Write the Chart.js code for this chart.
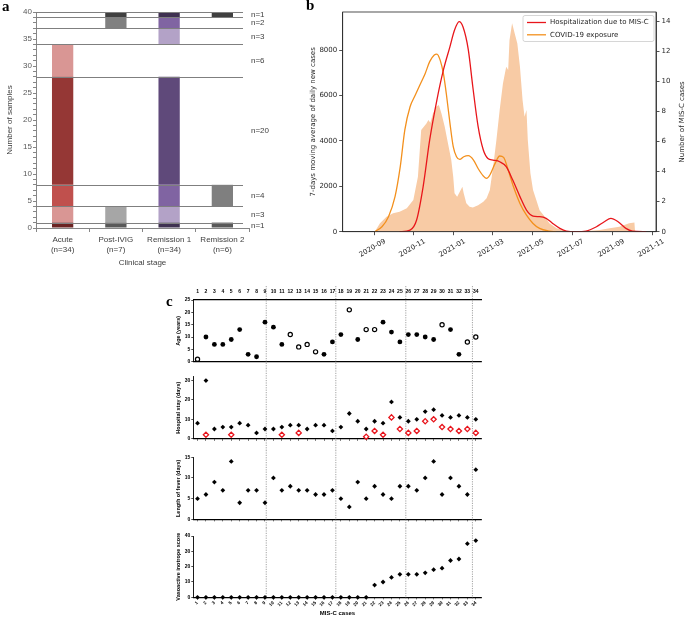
<!DOCTYPE html>
<html>
<head>
<meta charset="utf-8">
<script src="https://cdn.jsdelivr.net/npm/chart.js@4.4.1/dist/chart.umd.min.js"></script>
<style>
html, body { margin: 0; padding: 0; background: #fff; }
#fig { position: relative; width: 685px; height: 618px; overflow: hidden; }
#fig canvas { position: absolute; }
.tag { position: absolute; font: bold 15px "Liberation Serif", serif; color: #000; line-height: 1; }
</style>
</head>
<body>
<div id="fig">
  <canvas id="chartA" width="300" height="275" style="left:0;top:0"></canvas>
  <canvas id="chartB" width="385" height="270" style="left:300px;top:0"></canvas>
  <canvas id="chartAge" width="325" height="85" style="left:165px;top:283px"></canvas>
  <canvas id="chartHosp" width="325" height="82" style="left:165px;top:368px"></canvas>
  <canvas id="chartFever" width="325" height="78" style="left:165px;top:450px"></canvas>
  <canvas id="chartVis" width="325" height="90" style="left:165px;top:528px"></canvas>
  <div class="tag" style="left:2px;top:-1px">a</div>
  <div class="tag" style="left:306px;top:-2px">b</div>
  <div class="tag" style="left:166px;top:294px">c</div>
</div>
<script>
// ---- panel a : samples per clinical stage ----
const stages = [['Acute', '(n=34)'], ['Post-IVIG', '(n=7)'], ['Remission 1', '(n=34)'], ['Remission 2', '(n=6)']];
const groupSizes = [1, 3, 4, 20, 6, 3, 2, 1];          // patient groups, bottom to top
const acuteCounts = [1, 3, 4, 20, 6, 0, 0, 0];
const postIvigCounts = [1, 3, 0, 0, 0, 0, 2, 1];
const remission1Counts = [1, 3, 4, 20, 0, 3, 2, 1];
const remission2Counts = [1, 0, 4, 0, 0, 0, 0, 1];

// ---- panel b : epidemic curve (x = days since 2020-07-01) ----
const caseDays = [63, 71, 81, 91, 101, 112, 122, 129, 134, 138, 142, 145, 148, 152, 157, 161, 165, 170, 175, 180, 183, 185, 189, 193, 197, 199, 203, 208, 213, 221, 229, 234, 239, 244, 249, 254, 259, 264, 267, 269, 273, 277, 281, 285, 289, 292, 295, 297, 301, 305, 310, 315, 323, 330, 341, 356, 381, 407, 422, 437, 452, 460, 461];
const caseValues = [0, 370, 660, 810, 880, 1030, 1400, 2420, 4480, 4620, 4770, 4920, 4800, 5210, 5500, 5580, 5210, 4620, 3890, 3160, 2420, 1690, 1540, 1760, 1980, 1690, 1250, 1100, 1070, 1170, 1320, 1470, 1840, 2860, 4040, 5360, 6530, 7270, 7120, 8440, 9180, 8730, 8290, 7270, 5800, 5060, 5360, 4040, 2570, 1840, 1400, 950, 660, 370, 150, 30, 15, 70, 150, 220, 370, 410, 0];
const hospDays = [101, 117, 127, 137, 147, 158, 168, 178, 185, 192, 198, 206, 213, 221, 229, 236, 244, 254, 264, 274, 285, 295, 305, 315, 325, 335, 346, 356, 371, 386, 402, 414, 424, 435, 447, 457, 478];
const hospValues = [0, 0.11, 0.78, 3.0, 6.1, 8.75, 10.75, 12.3, 13.4, 13.96, 13.6, 12.1, 9.6, 7.0, 5.43, 4.87, 4.76, 4.65, 4.32, 3.43, 2.33, 1.44, 1.04, 1.0, 0.89, 0.55, 0.22, 0.04, 0, 0.04, 0.33, 0.66, 0.88, 0.66, 0.22, 0.04, 0];
const exposureDays = [63, 74, 84, 94, 102, 109, 117, 125, 132, 140, 147, 154, 158, 163, 168, 173, 178, 183, 188, 193, 199, 206, 214, 221, 229, 234, 239, 247, 254, 260, 267, 275, 285, 295, 305, 315, 330, 340];
const exposureValues = [0, 0.33, 1.0, 2.33, 4.32, 6.76, 8.3, 9.08, 9.75, 10.5, 11.3, 11.74, 11.8, 11.4, 10.5, 8.97, 7.2, 5.65, 4.98, 4.8, 4.98, 5.05, 4.76, 4.2, 3.7, 3.54, 3.77, 4.54, 5.03, 4.94, 4.1, 3.0, 1.88, 1.1, 0.55, 0.22, 0.04, 0];
const monthTicks = ['2020-09', '2020-11', '2021-01', '2021-03', '2021-05', '2021-07', '2021-09', '2021-11'];
const newCaseTicks = [0, 2000, 4000, 6000, 8000];
const misCaseTicks = [0, 2, 4, 6, 8, 10, 12, 14];

// ---- panel c : per-case data ----
const caseIds = [1, 2, 3, 4, 5, 6, 7, 8, 9, 10, 11, 12, 13, 14, 15, 16, 17, 18, 19, 20, 21, 22, 23, 24, 25, 26, 27, 28, 29, 30, 31, 32, 33, 34];
const ages = [1, 10, 7, 7, 9, 13, 3, 2, 16, 14, 7, 11, 6, 7, 4, 3, 8, 11, 21, 9, 13, 13, 16, 12, 8, 11, 11, 10, 9, 15, 13, 3, 8, 10];
const openAgeCases = [1, 12, 13, 14, 15, 19, 21, 22, 30, 33, 34];
const hospitalStay = [8, 30, 5, 6, 6, 8, 7, 3, 5, 5, 6, 7, 7, 5, 7, 7, 4, 6, 13, 9, 5, 9, 8, 19, 11, 9, 10, 14, 15, 12, 11, 12, 11, 10];
const icuStay = [null, 2, null, null, 2, null, null, null, null, null, 2, null, 3, null, null, null, null, null, null, null, 1, 4, 2, 11, 5, 3, 4, 9, 10, 6, 5, 4, 5, 3];
const feverDays = [5, 6, 9, 7, 14, 4, 7, 7, 4, 10, 7, 8, 7, 7, 6, 6, 7, 5, 3, 9, 5, 8, 6, 5, 8, 8, 7, 10, 14, 6, 10, 8, 6, 12];
const inotropeScore = [0, 0, 0, 0, 0, 0, 0, 0, 0, 0, 0, 0, 0, 0, 0, 0, 0, 0, 0, 0, 0, 8, 10, 13, 15, 15, 15, 16, 18, 19, 24, 25, 35, 37];
const groupDividers = [9.15, 17.4, 25.7, 33.6];

// ============ panel a ============
const stageCounts = [acuteCounts, postIvigCounts, remission1Counts, remission2Counts];
const stageColors = [
    ['#6b2322', '#d99694', '#c0504d', '#953735', '#d99694', '#d99694', '#c0504d', '#6b2322'],
    ['#595959', '#a6a6a6', '#7f7f7f', '#595959', '#a6a6a6', '#a6a6a6', '#808080', '#404040'],
    ['#3f3151', '#b3a2c7', '#8064a2', '#5f497a', '#b3a2c7', '#b3a2c7', '#8064a2', '#3f3151'],
    ['#595959', '#a6a6a6', '#7f7f7f', '#595959', '#a6a6a6', '#a6a6a6', '#808080', '#404040']
];
const fontA = { family: 'Liberation Sans', size: 8 };

// lower edge of every group on the sample axis
const groupStarts = groupSizes.map((n, g) => groupSizes.slice(0, g).reduce((s, v) => s + v, 0));

const groupLinesPlugin = {
    id: 'groupLines',
    afterDatasetsDraw(chart) {
        const { ctx, chartArea } = chart;
        const y = chart.scales.y;
        ctx.save();
        ctx.strokeStyle = '#7f7f7f';
        ctx.lineWidth = 1;
        ctx.fillStyle = '#404040';
        ctx.font = '8px "Liberation Sans"';
        ctx.textBaseline = 'middle';
        groupSizes.forEach((n, g) => {
            const top = groupStarts[g] + n;
            const py = Math.round(y.getPixelForValue(top)) + 0.5;
            ctx.beginPath();
            ctx.moveTo(chartArea.left, py);
            ctx.lineTo(chartArea.right - 6, py);
            ctx.stroke();
            ctx.fillText('n=' + n, chartArea.right + 2, y.getPixelForValue(groupStarts[g] + n / 2));
        });
        ctx.restore();
    }
};

new Chart(document.getElementById('chartA'), {
    type: 'bar',
    data: {
        labels: stages,
        datasets: groupSizes.map((n, g) => ({
            label: 'n=' + n,
            data: stageCounts.map(c => (c[g] ? [groupStarts[g], groupStarts[g] + c[g]] : null)),
            backgroundColor: stageColors.map(c => c[g]),
            borderWidth: 0,
            grouped: false,
            barPercentage: 0.4,
            categoryPercentage: 1
        }))
    },
    options: {
        responsive: false,
        animation: false,
        layout: { padding: { top: 12, right: 51, left: 0, bottom: 0 } },
        plugins: { legend: { display: false }, tooltip: { enabled: false } },
        scales: {
            x: {
                grid: { drawOnChartArea: false, tickLength: 4, color: '#868686', offset: true },
                border: { color: '#868686' },
                ticks: { color: '#404040', font: fontA, padding: 3, maxRotation: 0 },
                title: { display: true, text: 'Clinical stage', color: '#404040', font: fontA, padding: { top: 0, bottom: 7 } },
                afterFit: s => { s.height = 47; }
            },
            y: {
                min: 0,
                max: 40,
                ticks: { stepSize: 1, autoSkip: false, color: '#595959', font: fontA, padding: 1,
                    callback: v => (v % 5 === 0 ? v : '') },
                grid: { drawOnChartArea: false, tickLength: 3, color: '#868686' },
                border: { color: '#868686' },
                title: { display: true, text: 'Number of samples', color: '#404040', font: fontA, padding: { top: 5, bottom: 0 } },
                afterFit: s => { s.width = 36; }
            }
        }
    },
    plugins: [groupLinesPlugin]
});

// ============ panel b ============
const baseDay = Date.UTC(2020, 6, 1);
function dayOf(month) {
    const [yy, mm] = month.split('-').map(Number);
    return (Date.UTC(yy, mm - 1, 1) - baseDay) / 86400000;
}
function pts(xs, ys) { return xs.map((x, i) => ({ x: x, y: ys[i] })); }
const fontB = { family: 'DejaVu Sans', size: 7 };
const inkB = '#262626';

const panelBDecor = {
    id: 'panelBDecor',
    afterDraw(chart) {
        const { ctx, chartArea: a } = chart;
        ctx.save();
        ctx.strokeStyle = inkB;
        ctx.lineWidth = 0.8;
        ctx.strokeRect(a.left, a.top, a.right - a.left, a.bottom - a.top);
        // legend box
        const items = chart.data.datasets.filter(d => d.yAxisID === 'y1');
        const bw = 131, bh = 26, bx = a.right - 2 - bw, by = a.top + 3.5;
        ctx.fillStyle = 'rgba(255,255,255,0.85)';
        ctx.strokeStyle = '#cccccc';
        ctx.beginPath();
        ctx.roundRect(bx, by, bw, bh, 2);
        ctx.fill();
        ctx.stroke();
        ctx.font = '7px "DejaVu Sans"';
        ctx.textBaseline = 'middle';
        items.forEach((d, i) => {
            const cy = by + 7 + i * 12.3;
            ctx.strokeStyle = d.borderColor;
            ctx.lineWidth = d.borderWidth;
            ctx.beginPath();
            ctx.moveTo(bx + 4, cy);
            ctx.lineTo(bx + 23, cy);
            ctx.stroke();
            ctx.fillStyle = inkB;
            ctx.fillText(d.label, bx + 27, cy);
        });
        // right axis title, read bottom to top
        ctx.translate(chart.width - 3, (a.top + a.bottom) / 2);
        ctx.rotate(-Math.PI / 2);
        ctx.textAlign = 'center';
        ctx.fillStyle = inkB;
        ctx.font = '7px "DejaVu Sans"';
        ctx.fillText('Number of MIS-C cases', 0, 0);
        ctx.restore();
    }
};

new Chart(document.getElementById('chartB'), {
    type: 'line',
    data: {
        datasets: [
            { label: 'Hospitalization due to MIS-C', data: pts(hospDays, hospValues), yAxisID: 'y1',
              borderColor: '#e8161b', borderWidth: 1.3, pointRadius: 0, cubicInterpolationMode: 'monotone', fill: false },
            { label: 'COVID-19 exposure', data: pts(exposureDays, exposureValues), yAxisID: 'y1',
              borderColor: '#f3901d', borderWidth: 1.3, pointRadius: 0, cubicInterpolationMode: 'monotone', fill: false },
            { label: 'Daily new cases', data: pts(caseDays, caseValues), yAxisID: 'y',
              borderWidth: 0, backgroundColor: '#f8cba5', fill: 'origin', pointRadius: 0, tension: 0 }
        ]
    },
    options: {
        responsive: false,
        animation: false,
        layout: { padding: { top: 12, left: 0, right: 0, bottom: 0 } },
        plugins: { legend: { display: false }, tooltip: { enabled: false } },
        scales: {
            x: {
                type: 'linear',
                min: 14,
                max: 493,
                afterBuildTicks: s => { s.ticks = monthTicks.map(m => ({ value: dayOf(m) })); },
                ticks: { callback: (v, i) => monthTicks[i], minRotation: 30, maxRotation: 30,
                    labelOffset: 11, padding: 2, color: inkB, font: fontB },
                grid: { drawOnChartArea: false, tickLength: 3.5, color: inkB, lineWidth: 0.8 },
                border: { color: inkB, width: 0.8 },
                afterFit: s => { s.height = 38.3; }
            },
            y: {
                position: 'left',
                min: 0,
                max: 9680,
                afterBuildTicks: s => { s.ticks = newCaseTicks.map(v => ({ value: v })); },
                ticks: { callback: v => String(v), color: inkB, font: fontB, padding: 2 },
                grid: { drawOnChartArea: false, tickLength: 3.5, color: inkB, lineWidth: 0.8 },
                border: { color: inkB, width: 0.8 },
                title: { display: true, text: '7-days moving average of daily new cases', color: inkB, font: fontB, padding: { top: 9, bottom: 0 } },
                afterFit: s => { s.width = 42.7; }
            },
            y1: {
                position: 'right',
                min: 0,
                max: 14.6,
                afterBuildTicks: s => { s.ticks = misCaseTicks.map(v => ({ value: v })); },
                ticks: { callback: v => String(v), color: inkB, font: fontB, padding: 2 },
                grid: { drawOnChartArea: false, tickLength: 3.5, color: inkB, lineWidth: 0.8 },
                border: { color: inkB, width: 0.8 },
                afterFit: s => { s.width = 29; }
            }
        }
    },
    plugins: [panelBDecor]
});

// ============ panel c ============
const fontC = { family: 'Liberation Sans', size: 5, weight: 'bold' };
const fontCTitle = { family: 'Liberation Sans', size: 5.5, weight: 'bold' };

const dividerPlugin = {
    id: 'dividers',
    beforeDatasetsDraw(chart, args, opts) {
        const { ctx } = chart;
        const x = chart.scales.x;
        const y0 = opts.top || 0;
        const y1 = opts.bottom === 'axis' ? chart.chartArea.bottom + 3 : chart.height;
        ctx.save();
        ctx.strokeStyle = '#8c8c8c';
        ctx.lineWidth = 0.8;
        ctx.setLineDash([1.2, 1.2]);
        groupDividers.forEach(v => {
            const px = x.getPixelForValue(v);
            ctx.beginPath();
            ctx.moveTo(px, y0);
            ctx.lineTo(px, y1);
            ctx.stroke();
        });
        ctx.restore();
    }
};

function casePoints(values) {
    return caseIds.map((c, i) => ({ x: c, y: values[i] })).filter(p => p.y !== null);
}

function casePanel(id, cfg) {
    const xAxis = {
        type: 'linear',
        min: 0.5,
        max: 34.7,
        afterBuildTicks: s => { s.ticks = caseIds.map(v => ({ value: v })); },
        ticks: { display: !!cfg.xLabels, autoSkip: false, minRotation: 45, maxRotation: 45,
            color: '#000', font: { family: 'Liberation Sans', size: 4.5, weight: 'bold' }, padding: 1 },
        grid: { display: cfg.xTicks !== false, drawOnChartArea: false, tickLength: 2, color: '#000', lineWidth: 0.7 },
        border: { color: '#000', width: 1.3 },
        title: { display: !!cfg.xTitle, text: cfg.xTitle || '', color: '#000', font: { family: 'Liberation Sans', size: 6, weight: 'bold' }, padding: { top: 0, bottom: 1 } },
        afterFit: s => { s.height = cfg.xHeight; }
    };
    const scales = {
        x: xAxis,
        y: {
            min: 0,
            max: cfg.yMax,
            ticks: { stepSize: cfg.yStep, includeBounds: false, color: '#000', font: fontC, padding: 1 },
            grid: { drawOnChartArea: false, tickLength: 2, color: '#000', lineWidth: 0.7 },
            border: { color: '#000', width: 0.9 },
            title: { display: true, text: cfg.yTitle, color: '#000', font: fontCTitle, padding: { top: 0, bottom: 0 } },
            afterFit: s => { s.width = 18.3; }
        }
    };
    if (cfg.topNumbers) {
        scales.x2 = {
            type: 'linear',
            position: 'top',
            min: 0.5,
            max: 34.7,
            afterBuildTicks: s => { s.ticks = caseIds.map(v => ({ value: v })); },
            ticks: { autoSkip: false, maxRotation: 0, color: '#000', font: fontC, padding: 5 },
            grid: { drawOnChartArea: false, tickLength: 0, color: '#000' },
            border: { color: '#000', width: 1.3 },
            afterFit: s => { s.height = 17; }
        };
    }
    return new Chart(document.getElementById(id), {
        type: 'scatter',
        data: { datasets: cfg.datasets },
        options: {
            responsive: false,
            animation: false,
            layout: { padding: { top: cfg.padTop, left: 10, right: 8.3, bottom: 0 } },
            plugins: { legend: { display: false }, tooltip: { enabled: false },
                dividers: { top: cfg.lineTop, bottom: cfg.lineBottom } },
            scales: scales
        },
        plugins: [dividerPlugin]
    });
}

const blackDiamond = { pointStyle: 'rectRot', pointRadius: 2.4, backgroundColor: '#000', borderWidth: 0, clip: false };

casePanel('chartAge', {
    padTop: 0, lineTop: 3, xHeight: 6.3, xTicks: false, topNumbers: true,
    yMax: 25, yStep: 5, yTitle: 'Age (years)',
    datasets: [
        { data: casePoints(ages.map((a, i) => (openAgeCases.includes(caseIds[i]) ? null : a))),
          pointStyle: 'circle', pointRadius: 2.4, backgroundColor: '#000', borderWidth: 0, clip: false },
        { data: casePoints(ages.map((a, i) => (openAgeCases.includes(caseIds[i]) ? a : null))),
          pointStyle: 'circle', pointRadius: 2.1, backgroundColor: '#fff', borderColor: '#000', borderWidth: 1.2, clip: false }
    ]
});

casePanel('chartHosp', {
    padTop: 8.7, lineTop: 0, xHeight: 11.3,
    yMax: 32, yStep: 10, yTitle: 'Hospital stay (days)',
    datasets: [
        { data: casePoints(icuStay), pointStyle: 'rectRot', pointRadius: 2.6, backgroundColor: '#fff',
          borderColor: '#e8141c', borderWidth: 1.3, clip: false },
        Object.assign({ data: casePoints(hospitalStay) }, blackDiamond)
    ]
});

casePanel('chartFever', {
    padTop: 7.3, lineTop: 0, xHeight: 8.7,
    yMax: 15, yStep: 5, yTitle: 'Length of fever (days)',
    datasets: [Object.assign({ data: casePoints(feverDays) }, blackDiamond)]
});

casePanel('chartVis', {
    padTop: 8, lineTop: 0, lineBottom: 'axis', xHeight: 20.7, xLabels: true, xTitle: 'MIS-C cases',
    yMax: 40, yStep: 10, yTitle: 'Vasoactive inotrope score',
    datasets: [Object.assign({ data: casePoints(inotropeScore) }, blackDiamond)]
});
</script>
</body>
</html>
